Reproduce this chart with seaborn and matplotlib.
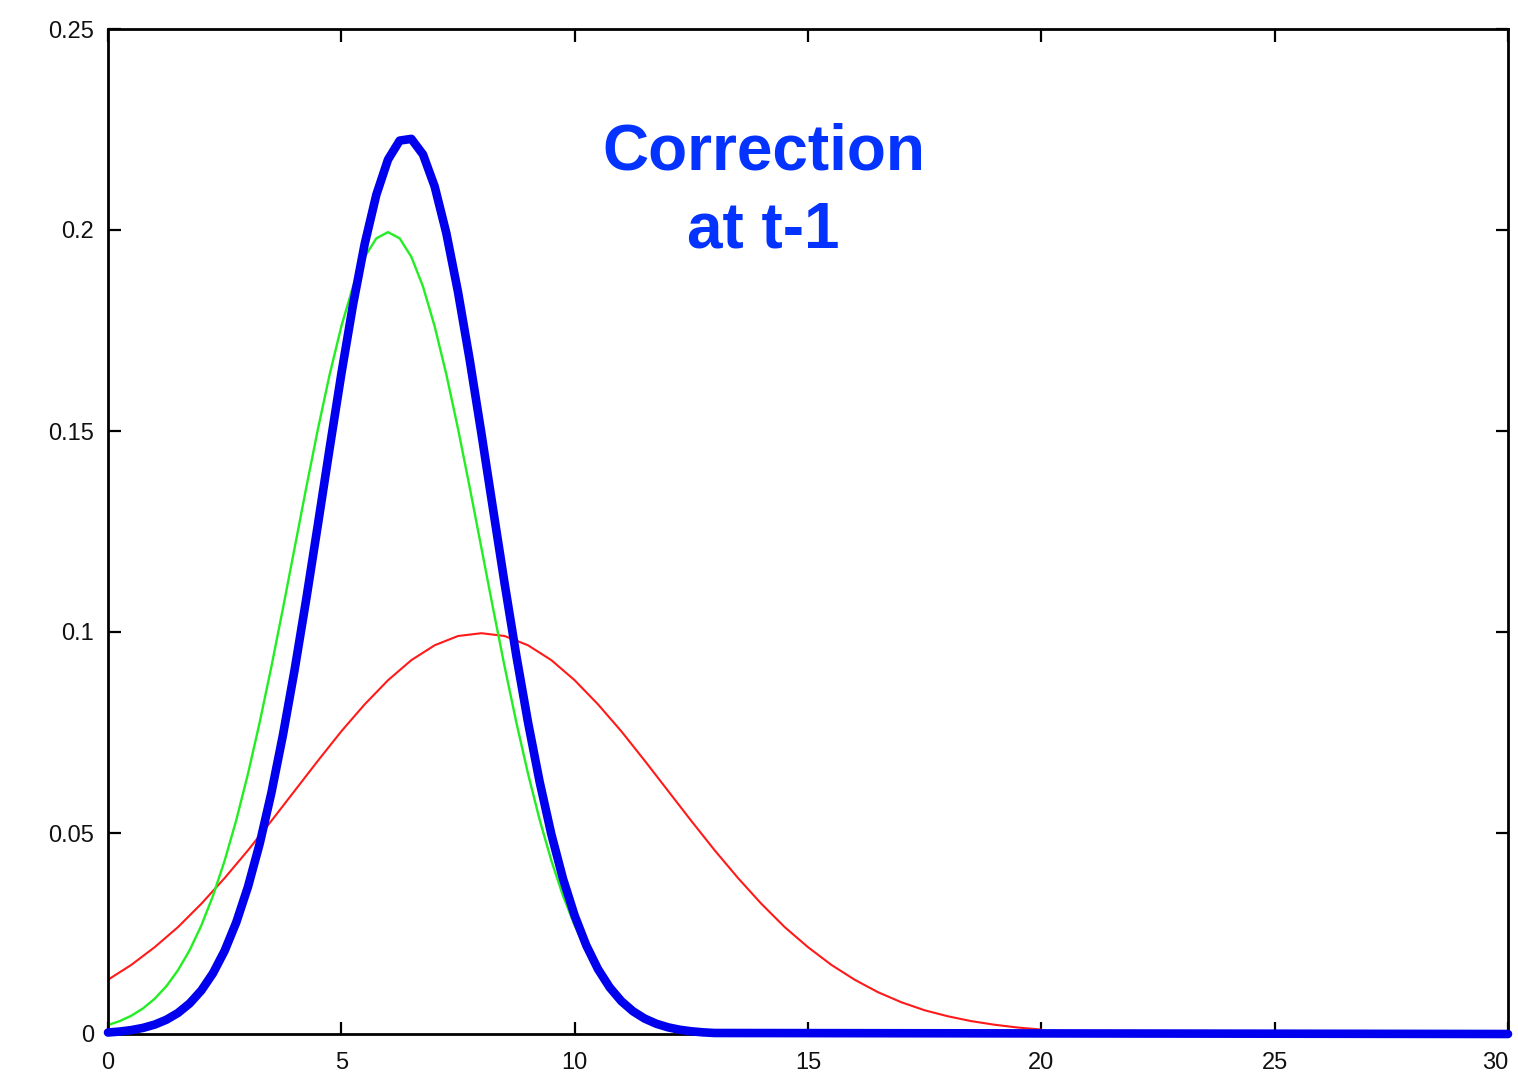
import numpy as np
import pandas as pd
import matplotlib
matplotlib.use("Agg")
import matplotlib.pyplot as plt
import seaborn as sns

# ---- data ----
red_x = np.arange(0, 20.01, 0.5)
red_y = [0.0135, 0.0172, 0.0216, 0.0266, 0.0324, 0.0388, 0.0457, 0.0530, 0.0605,
         0.0680, 0.0753, 0.0820, 0.0880, 0.0930, 0.0967, 0.0990, 0.0997, 0.0990,
         0.0967, 0.0930, 0.0880, 0.0820, 0.0753, 0.0680, 0.0605, 0.0530, 0.0457,
         0.0388, 0.0324, 0.0266, 0.0216, 0.0172, 0.0135, 0.0104, 0.0079, 0.0059,
         0.0044, 0.0032, 0.0023, 0.0016, 0.0011]

green_x = np.arange(0, 12.01, 0.25)
green_y = [0.00222, 0.00320, 0.00455, 0.00636, 0.00876, 0.01188, 0.01587, 0.02086,
           0.02700, 0.03439, 0.04314, 0.05327, 0.06476, 0.07751, 0.09132, 0.10594,
           0.12098, 0.13603, 0.15057, 0.16408, 0.17603, 0.18593, 0.19333, 0.19792,
           0.19947, 0.19792, 0.19333, 0.18593, 0.17603, 0.16408, 0.15057, 0.13603,
           0.12098, 0.10594, 0.09132, 0.07751, 0.06476, 0.05327, 0.04314, 0.03439,
           0.02700, 0.02086, 0.01587, 0.01188, 0.00876, 0.00636, 0.00455, 0.00320,
           0.00222]

blue_x = list(np.arange(0, 13.01, 0.25)) + [30.0]
blue_y = [0.00037, 0.00061, 0.00097, 0.00152, 0.00234, 0.00354, 0.00524, 0.00761,
          0.01083, 0.01512, 0.02071, 0.02782, 0.03664, 0.04732, 0.05993, 0.07444,
          0.09067, 0.10831, 0.12688, 0.14575, 0.16419, 0.18139, 0.19651, 0.20877,
          0.21751, 0.22224, 0.22267, 0.21879, 0.21082, 0.19921, 0.18460, 0.16775,
          0.14950, 0.13065, 0.11197, 0.09410, 0.07756, 0.06269, 0.04969, 0.03862,
          0.02944, 0.02201, 0.01613, 0.01160, 0.00817, 0.00565, 0.00383, 0.00255,
          0.00166, 0.00106, 0.00067, 0.00041, 0.00025, 0.0]

x_ticks = [0, 5, 10, 15, 20, 25, 30]
x_tick_labels = ["0", "5", "10", "15", "20", "25", "30"]
y_ticks = [0, 0.05, 0.1, 0.15, 0.2, 0.25]
y_tick_labels = ["0", "0.05", "0.1", "0.15", "0.2", "0.25"]

annotation_lines = ["Correction", "at t-1"]

# ---- plot ----
sns.set_theme(style="white")
plt.rcParams["font.family"] = ["Liberation Sans", "DejaVu Sans"]

fig = plt.figure(figsize=(15.18, 10.76), dpi=100)
ax = fig.add_axes([108 / 1518, 42 / 1076, 1400 / 1518, 1005 / 1076])

red_df = pd.DataFrame({"x": red_x, "y": red_y})
green_df = pd.DataFrame({"x": green_x, "y": green_y})
blue_df = pd.DataFrame({"x": blue_x, "y": blue_y})

sns.lineplot(data=red_df, x="x", y="y", ax=ax, color="#ff1a1a", linewidth=1.5,
             sort=False, estimator=None)
sns.lineplot(data=green_df, x="x", y="y", ax=ax, color="#22ee22", linewidth=1.7,
             sort=False, estimator=None)
sns.lineplot(data=blue_df, x="x", y="y", ax=ax, color="#0000ee", linewidth=6.2,
             sort=False, estimator=None, clip_on=False, zorder=5,
             solid_joinstyle="round")

ax.set_xlim(0, 30)
ax.set_ylim(0, 0.25)
ax.set_xticks(x_ticks)
ax.set_xticklabels(x_tick_labels)
ax.set_yticks(y_ticks)
ax.set_yticklabels(y_tick_labels)
ax.set_xlabel("")
ax.set_ylabel("")

for s in ax.spines.values():
    s.set_visible(True)
    s.set_color("black")
    s.set_linewidth(2.0)

ax.tick_params(axis="both", which="both", direction="in", length=9, width=1.6,
               color="black", labelsize=17, labelcolor="#111111",
               top=True, right=True, bottom=True, left=True)
ax.tick_params(axis="x", pad=13)
ax.tick_params(axis="y", pad=10)

# keep the last x label inside the figure
ax.get_xticklabels()[-1].set_horizontalalignment("right")

txt_x = 14.05
ax.text(txt_x, 0.2193, annotation_lines[0], color="#0433ff", fontsize=46,
        fontweight="bold", ha="center", va="center")
ax.text(txt_x, 0.2000, annotation_lines[1], color="#0433ff", fontsize=46,
        fontweight="bold", ha="center", va="center")

fig.savefig("out.png", dpi=100, facecolor="white")
